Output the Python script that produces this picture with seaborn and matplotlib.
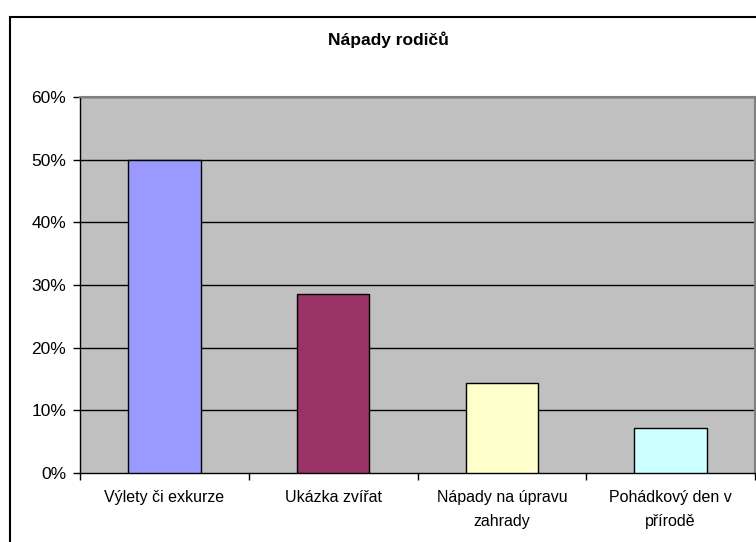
import numpy as np
import pandas as pd
import matplotlib
matplotlib.use("Agg")
import matplotlib.pyplot as plt
from matplotlib.ticker import PercentFormatter, FixedLocator
from matplotlib.patches import Rectangle
import seaborn as sns

# data
categories = ["Výlety či exkurze", "Ukázka zvířat", "Nápady na úpravu\nzahrady", "Pohádkový den v\npřírodě"]
shares = [0.50, 0.2857, 0.1429, 0.0714]
bar_colors = ["#9999ff", "#993366", "#ffffcc", "#ccffff"]
y_ticks = [0, 0.1, 0.2, 0.3, 0.4, 0.5, 0.6]

df = pd.DataFrame({"kategorie": categories, "podil": shares})

sns.set_style("white")
plt.rcParams['font.family'] = ['Liberation Sans', 'DejaVu Sans']
plt.rcParams['text.color'] = 'black'
plt.rcParams['xtick.color'] = 'black'
plt.rcParams['ytick.color'] = 'black'

fig = plt.figure(figsize=(7.56, 5.42), dpi=100)
fig.patch.set_facecolor('#ffffff')
ax = fig.add_axes([80/756, 1-473/542, 675/756, 376/542])
ax.set_facecolor('#c0c0c0')

sns.barplot(data=df, x="kategorie", y="podil", hue="kategorie",
            palette=bar_colors, saturation=1, edgecolor="black", linewidth=1,
            width=0.43, legend=False, ax=ax, zorder=3)

ax.set_ylim(0, 0.6)
ax.set_xlim(-0.5, len(categories) - 0.5)
ax.yaxis.set_major_locator(FixedLocator(y_ticks))
ax.yaxis.set_major_formatter(PercentFormatter(1, decimals=0))
for t in y_ticks[1:]:
    ax.axhline(t, color='black', lw=1, zorder=1)

ax.set_xlabel("")
ax.set_ylabel("")
ax.tick_params(axis='y', length=5, width=1, color='black', labelsize=12.5, pad=5, left=True)
ax.tick_params(axis='x', which='major', length=0, labelsize=11.5, pad=12)
ax.set_xticks(np.arange(-0.5, len(categories)), minor=True)
ax.tick_params(axis='x', which='minor', length=5, width=1, color='black', bottom=True)
for lbl in ax.get_xticklabels():
    lbl.set_linespacing(1.75)
    lbl.set_verticalalignment('top')

for s in ['top', 'right']:
    ax.spines[s].set_color('#808080')
    ax.spines[s].set_linewidth(1.5)
for s in ['left', 'bottom']:
    ax.spines[s].set_color('black')
    ax.spines[s].set_linewidth(1)

fig.text(388/756, 1-40/542, "Nápady rodičů", ha='center', va='center',
         fontsize=12.5, fontweight='bold')

# chart border
fig.patches.append(Rectangle((10/756, -0.01), 1, 1.01-17/542, transform=fig.transFigure,
                             fill=False, edgecolor='black', lw=1.5))

fig.savefig("out.png", dpi=100)
